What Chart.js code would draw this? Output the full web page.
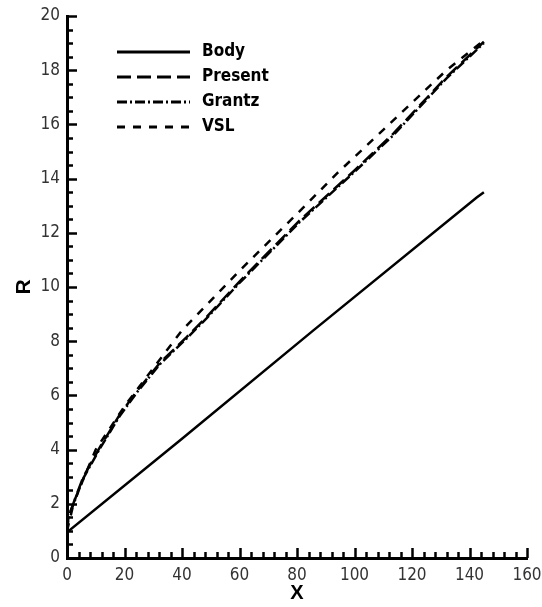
<!DOCTYPE html>
<html>
<head>
<meta charset="utf-8">
<script src="https://cdn.jsdelivr.net/npm/chart.js@4/dist/chart.umd.min.js"></script>
<style>
  html, body { margin: 0; padding: 0; background: #fff; }
  #wrap { width: 542px; height: 607px; }
</style>
</head>
<body>
<div id="wrap"><canvas id="shockChart"></canvas></div>
<script>
// values
const bodyX = [0, 40, 85.7, 142.5, 145];
const bodyR = [0.95, 4.4, 8.4, 13.3, 13.5];

const presentX = [0, 0.5, 1.5, 2.5, 5.7, 11.5, 18.4, 24.6, 32.3, 41.6, 48.6, 60, 81, 100, 113.5, 132, 145];
const presentR = [1.0, 1.5, 1.8, 2.1, 3.0, 4.1, 5.3, 6.2, 7.2, 8.15, 8.9, 10.2, 12.46, 14.3, 15.66, 17.75, 19.05];

const grantzX = [0, 0.5, 1.5, 2.5, 5.7, 11.5, 18.4, 24.6, 32.3, 41.6, 48.6, 60, 81, 100, 113.5, 132, 145];
const grantzR = [1.0, 1.5, 1.8, 2.05, 2.95, 4.05, 5.25, 6.15, 7.15, 8.1, 8.85, 10.15, 12.4, 14.25, 15.6, 17.7, 19.0];

const vslX = [0, 2.5, 10, 20, 40, 60, 80, 94, 110, 132, 145];
const vslR = [1.0, 2.1, 4.0, 5.6, 8.4, 10.6, 12.7, 14.2, 15.8, 18.0, 19.1];

const xTicks = [0, 20, 40, 60, 80, 100, 120, 140, 160];
const rTicks = [0, 2, 4, 6, 8, 10, 12, 14, 16, 18, 20];

const narrow = "'Liberation Sans Narrow', 'DejaVu Sans Condensed', 'Liberation Sans', sans-serif";

function pts(xs, ys) {
  return xs.map((x, i) => ({ x: x, y: ys[i] }));
}

// inward major/minor ticks
const inwardTicks = {
  id: "inwardTicks",
  afterDraw(chart) {
    const c = chart.ctx;
    const xs = chart.scales.x;
    const ys = chart.scales.y;
    c.save();
    c.strokeStyle = "#000";
    c.lineWidth = 2.5;
    for (let v = 0; v <= 160; v += 4) {
      const px = Math.round(xs.getPixelForValue(v)) + 0.5;
      const len = v % 20 === 0 ? 10 : 6;
      c.beginPath();
      c.moveTo(px, ys.bottom);
      c.lineTo(px, ys.bottom - len);
      c.stroke();
    }
    for (let v = 0; v <= 20; v += 0.5) {
      const py = Math.round(ys.getPixelForValue(v)) + 0.5;
      const len = v % 2 === 0 ? 10 : 6;
      c.beginPath();
      c.moveTo(xs.left, py);
      c.lineTo(xs.left + len, py);
      c.stroke();
    }
    c.restore();
  },
};

// legend with line samples inside the plot
const lineLegend = {
  id: "lineLegend",
  afterDraw(chart) {
    const c = chart.ctx;
    c.save();
    c.font = "bold 17px " + narrow;
    c.textBaseline = "middle";
    c.fillStyle = "#000";
    chart.data.datasets.forEach((ds, i) => {
      const y = 52 + i * 25;
      c.strokeStyle = "#000";
      c.lineWidth = 3;
      c.setLineDash(ds.borderDash || []);
      c.beginPath();
      c.moveTo(117, y);
      c.lineTo(190, y);
      c.stroke();
      c.setLineDash([]);
      c.fillText(ds.label, 202, y);
    });
    c.restore();
  },
};

const ctx = document.getElementById("shockChart").getContext("2d");

const shockChart = new Chart(ctx, {
  type: "scatter",
  data: {
    datasets: [
      { label: "Body", data: pts(bodyX, bodyR), borderDash: [] },
      { label: "Present", data: pts(presentX, presentR), borderDash: [14, 6] },
      { label: "Grantz", data: pts(grantzX, grantzR), borderDash: [10, 3, 2, 3] },
      { label: "VSL", data: pts(vslX, vslR), borderDash: [8, 8] },
    ].map((d) => ({
      ...d,
      showLine: true,
      borderColor: "#000",
      backgroundColor: "#000",
      borderWidth: 2.5,
      pointRadius: 0,
      fill: false,
    })),
  },
  options: {
    responsive: true,
    maintainAspectRatio: false,
    animation: false,
    layout: { padding: { top: 16, right: 15, left: 0, bottom: 0 } },
    plugins: { legend: { display: false }, tooltip: { enabled: false } },
    scales: {
      x: {
        type: "linear",
        min: 0,
        max: 160,
        afterBuildTicks: (s) => { s.ticks = xTicks.map((v) => ({ value: v })); },
        afterFit: (s) => { s.height = 49; s.paddingLeft = 0; s.paddingRight = 0; },
        grid: { display: false, drawTicks: false },
        border: { display: true, color: "#000", width: 3 },
        ticks: { color: "#333", padding: 7, maxRotation: 0, font: { family: narrow, size: 17 } },
        title: {
          display: true,
          text: "X",
          color: "#000",
          padding: { top: 0, bottom: 2 },
          font: { family: "'Liberation Sans', Arial, sans-serif", size: 20, weight: "bold" },
        },
      },
      y: {
        type: "linear",
        min: 0,
        max: 20,
        afterBuildTicks: (s) => { s.ticks = rTicks.map((v) => ({ value: v })); },
        afterFit: (s) => { s.width = 67; s.paddingTop = 0; s.paddingBottom = 0; },
        grid: { display: false, drawTicks: false },
        border: { display: true, color: "#000", width: 3 },
        ticks: { color: "#333", padding: 7, font: { family: narrow, size: 17 } },
        title: {
          display: true,
          text: "R",
          color: "#000",
          padding: { top: 12, bottom: 0 },
          font: { family: "'Liberation Sans', Arial, sans-serif", size: 21, weight: "bold" },
        },
      },
    },
  },
  plugins: [inwardTicks, lineLegend],
});
</script>
</body>
</html>
